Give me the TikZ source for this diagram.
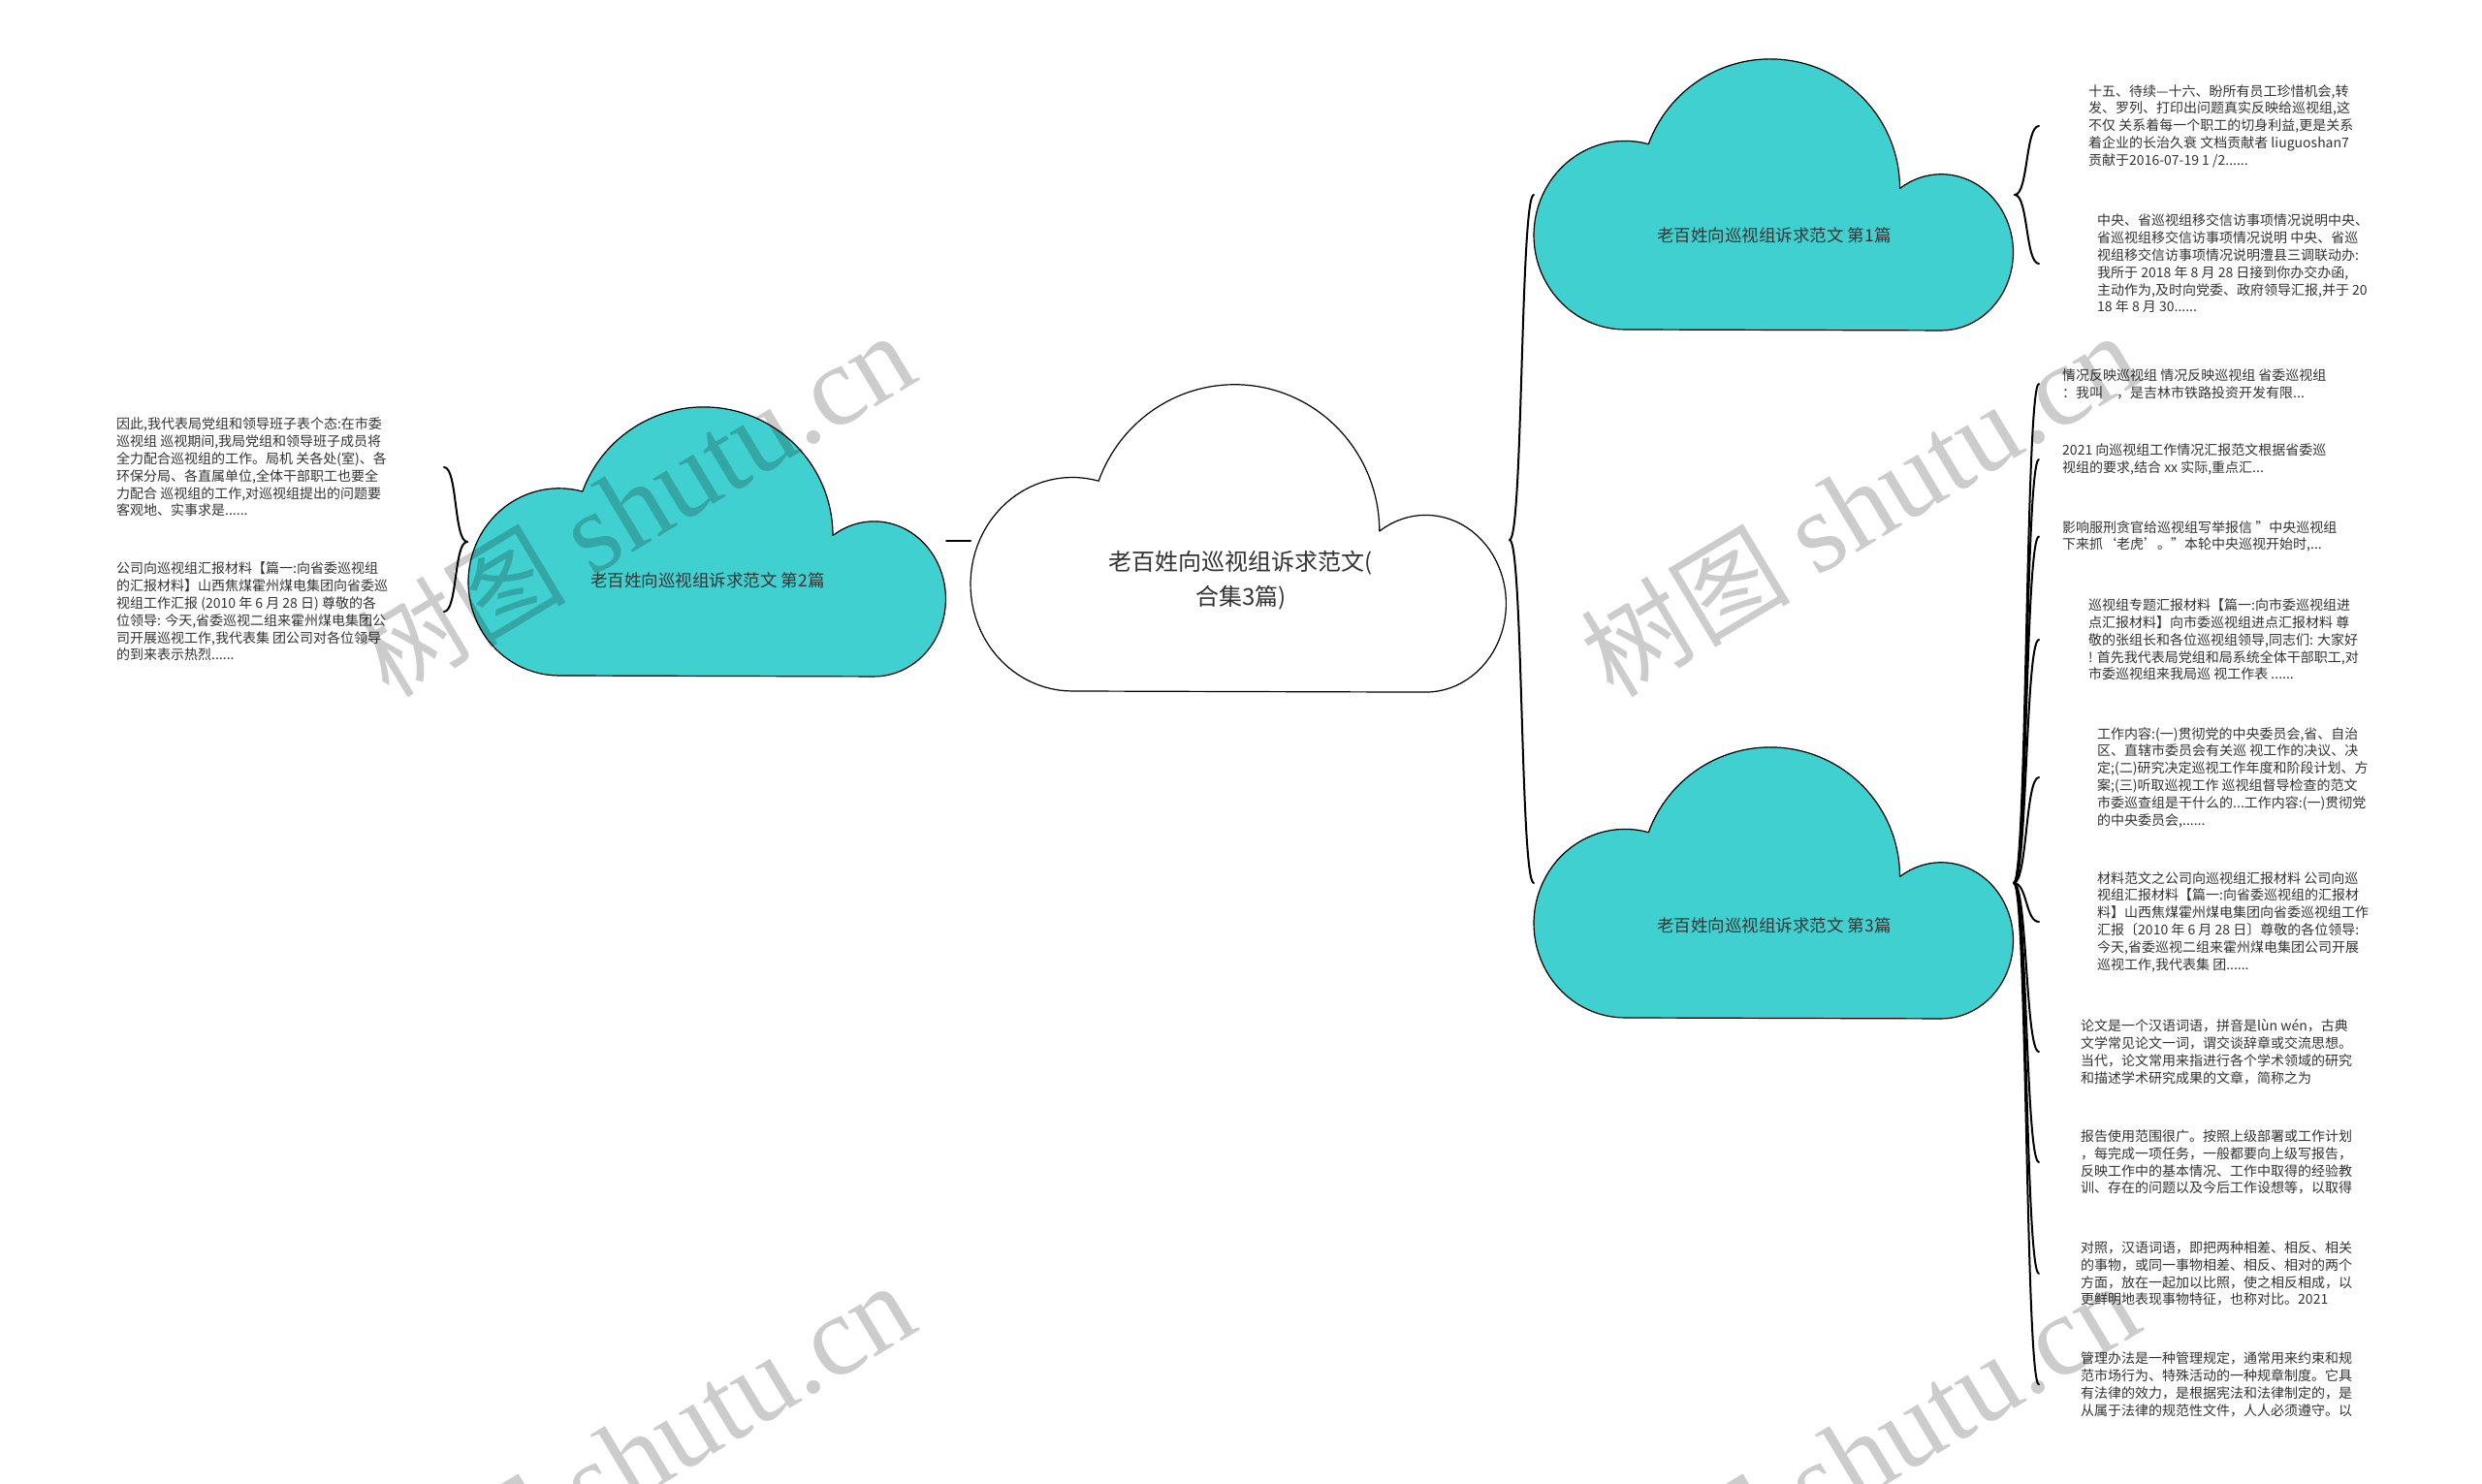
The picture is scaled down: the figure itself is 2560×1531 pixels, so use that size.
\documentclass[tikz,border=0pt]{standalone}
\usepackage{fontspec}
\setmainfont{Noto Sans CJK SC}
\newfontfamily\cjk{Noto Sans CJK SC}
\newfontfamily\wmfont{Liberation Serif}
\definecolor{tealfill}{RGB}{64,208,207}
\definecolor{txt}{RGB}{51,51,51}
\newcommand\mycloud[5]{%
\begin{scope}[shift={(#1,#2)},xscale=#3,yscale=#4]
\path[cloudline,fill=#5] plot[domain=0:1,samples=50,variable=\t] ({0.19+0.19*cos(270-195*\t)},{0.35+0.35*sin(270-195*\t)})
 -- plot[domain=0:1,samples=70,variable=\t] ({0.4927+0.27*cos(160-160*\t)},{0.524+0.48*sin(160-160*\t)})
 -- plot[domain=0:1,samples=50,variable=\t] ({0.849+0.15*cos(125-215*\t)},{0.2865+0.29*sin(125-215*\t)})
 -- cycle;
\end{scope}}
\newcommand\wmtext{{\cjk\fontsize{108}{108}\selectfont 树图}\hspace{28pt}{\wmfont\fontsize{118}{118}\selectfont shutu.cn}}
\begin{document}
\begin{tikzpicture}[x=1pt,y=1pt,
  cloudline/.style={draw=black,line width=1.2pt,line join=round},
  cloudlabel/.style={font=\fontsize{17.5}{22}\selectfont,text=txt,inner sep=0},
  smalltext/.style={font=\fontsize{14}{17.8}\selectfont,text=txt,align=left,inner sep=0,anchor=west},
  link/.style={draw=black,line width=2pt,line cap=round},
  bracer/.style={out=0,in=180,distance=14pt},
  bracel/.style={out=180,in=0,distance=14pt},
  wmark/.style={rotate=31,text=black,text opacity=0.2,inner sep=0}]
\useasboundingbox (0,0) rectangle (2560,1531);
\fill[white] (0,0) rectangle (2560,1531);

% clouds
\mycloud{1001}{818}{553}{315}{white}
\mycloud{483}{834}{493}{276}{tealfill}
\mycloud{1582}{1191}{495}{278}{tealfill}
\mycloud{1582}{481}{495}{278}{tealfill}

% cloud labels
\node[font=\fontsize{24}{36}\selectfont,text=txt,align=center,inner sep=0] (root) at (1280,932) {老百姓向巡视组诉求范文(\\合集3篇)};
\node[cloudlabel] (p2) at (730,932) {老百姓向巡视组诉求范文 第2篇};
\node[cloudlabel] (p1) at (1830,1288) {老百姓向巡视组诉求范文 第1篇};
\node[cloudlabel] (p3) at (1830,576) {老百姓向巡视组诉求范文 第3篇};

% text blocks
\node[smalltext] (l1) at (120,1049) {因此,我代表局党组和领导班子表个态:在市委\\巡视组 巡视期间,我局党组和领导班子成员将\\全力配合巡视组的工作。局机 关各处(室)、各\\环保分局、各直属单位,全体干部职工也要全\\力配合 巡视组的工作,对巡视组提出的问题要\\客观地、实事求是......};
\node[smalltext] (l2) at (120,900) {公司向巡视组汇报材料【篇一:向省委巡视组\\的汇报材料】山西焦煤霍州煤电集团向省委巡\\视组工作汇报 (2010 年 6 月 28 日) 尊敬的各\\位领导: 今天,省委巡视二组来霍州煤电集团公\\司开展巡视工作,我代表集 团公司对各位领导\\的到来表示热烈......};
\node[smalltext] (t1) at (2154,1401) {十五、待续---十六、盼所有员工珍惜机会,转\\发、罗列、打印出问题真实反映给巡视组,这\\不仅 关系着每一个职工的切身利益,更是关系\\着企业的长治久衰 文档贡献者 liuguoshan7\\贡献于2016-07-19 1 /2......};
\node[smalltext] (t2) at (2163,1259) {中央、省巡视组移交信访事项情况说明中央、\\省巡视组移交信访事项情况说明 中央、省巡\\视组移交信访事项情况说明澧县三调联动办:\\我所于 2018 年 8 月 28 日接到你办交办函,\\主动作为,及时向党委、政府领导汇报,并于 20\\18 年 8 月 30......};
\node[smalltext] (t3) at (2127,1135) {情况反映巡视组 情况反映巡视组 省委巡视组\\：我叫　，是吉林市铁路投资开发有限...};
\node[smalltext] (t4) at (2127,1057) {2021 向巡视组工作情况汇报范文根据省委巡\\视组的要求,结合 xx 实际,重点汇...};
\node[smalltext] (t5) at (2127,977.5) {影响服刑贪官给巡视组写举报信 "中央巡视组\\下来抓‘老虎’。"本轮中央巡视开始时,...};
\node[smalltext] (t6) at (2154,871) {巡视组专题汇报材料【篇一:向市委巡视组进\\点汇报材料】向市委巡视组进点汇报材料 尊\\敬的张组长和各位巡视组领导,同志们: 大家好\\! 首先我代表局党组和局系统全体干部职工,对\\市委巡视组来我局巡 视工作表 ......};
\node[smalltext] (t7) at (2163,729) {工作内容:(一)贯彻党的中央委员会,省、自治\\区、直辖市委员会有关巡 视工作的决议、决\\定;(二)研究决定巡视工作年度和阶段计划、方\\案;(三)听取巡视工作 巡视组督导检查的范文\\市委巡查组是干什么的...工作内容:(一)贯彻党\\的中央委员会,......};
\node[smalltext] (t8) at (2163,580) {材料范文之公司向巡视组汇报材料 公司向巡\\视组汇报材料【篇一:向省委巡视组的汇报材\\料】山西焦煤霍州煤电集团向省委巡视组工作\\汇报〔2010 年 6 月 28 日〕尊敬的各位领导:\\今天,省委巡视二组来霍州煤电集团公司开展\\巡视工作,我代表集 团......};
\node[smalltext] (t9) at (2146,446) {论文是一个汉语词语，拼音是lùn wén，古典\\文学常见论文一词，谓交谈辞章或交流思想。\\当代，论文常用来指进行各个学术领域的研究\\和描述学术研究成果的文章，简称之为};
\node[smalltext] (t10) at (2146,332) {报告使用范围很广。按照上级部署或工作计划\\，每完成一项任务，一般都要向上级写报告，\\反映工作中的基本情况、工作中取得的经验教\\训、存在的问题以及今后工作设想等，以取得};
\node[smalltext] (t11) at (2146,217) {对照，汉语词语，即把两种相差、相反、相关\\的事物，或同一事物相差、相反、相对的两个\\方面，放在一起加以比照，使之相反相成，以\\更鲜明地表现事物特征，也称对比。2021};
\node[smalltext] (t12) at (2146,102.5) {管理办法是一种管理规定，通常用来约束和规\\范市场行为、特殊活动的一种规章制度。它具\\有法律的效力，是根据宪法和法律制定的，是\\从属于法律的规范性文件，人人必须遵守。以};

% connector end points
\coordinate (p2r) at (976,973);
\coordinate (rootl) at (1001,973);
\coordinate (rootr) at (1557,974);
\coordinate (p1l) at (1582,1330);
\coordinate (p3l) at (1582,620);
\coordinate (p2l) at (482,972);
\coordinate (l1e) at (458,1049);
\coordinate (l2e) at (458,900);
\coordinate (p1r) at (2078,1330);
\coordinate (t1e) at (2103,1401);
\coordinate (t2e) at (2103,1259);
\coordinate (p3r) at (2077,620);
\foreach \n/\yy in {3/1135,4/1057,5/977.5,6/871,7/729,8/580,9/446,10/332,11/217,12/102.5}
  \coordinate (t\n e) at (2103,\yy);

% connectors
\draw[link] (p2r) -- (rootl);
\draw[link] (rootr) to[bracer] (p1l);
\draw[link] (rootr) to[bracer] (p3l);
\draw[link] (p2l) to[bracel] (l1e);
\draw[link] (p2l) to[bracel] (l2e);
\draw[link] (p1r) to[bracer] (t1e);
\draw[link] (p1r) to[bracer] (t2e);
\foreach \n in {3,...,12}
  \draw[link] (p3r) to[bracer] (t\n e);

% watermarks
\node[wmark] (w1) at (655,1010) {\wmtext};
\node[wmark] (w2) at (1918,1010) {\wmtext};
\node[wmark] (w3) at (655,30) {\wmtext};
\node[wmark] (w4) at (1918,30) {\wmtext};
\end{tikzpicture}
\end{document}
